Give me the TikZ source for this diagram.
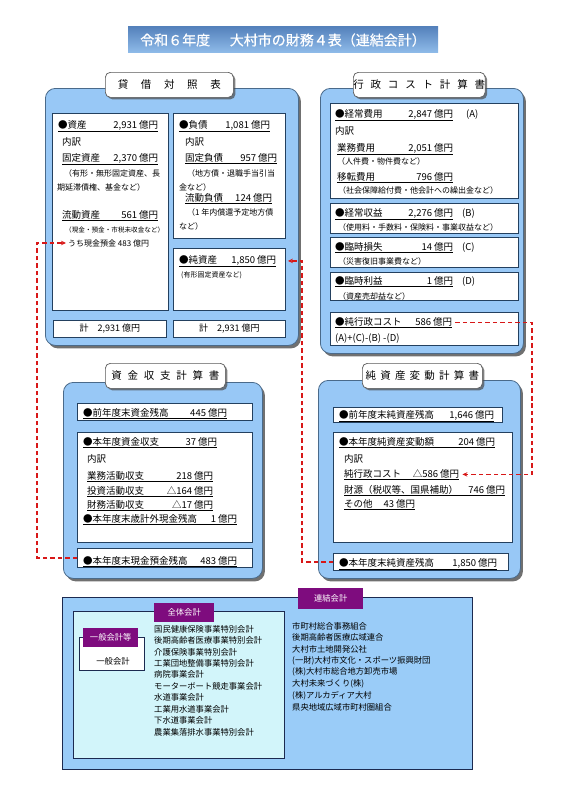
\documentclass[tikz,border=0pt]{standalone}
\usepackage{fontspec}
\setmainfont{Noto Sans CJK JP}
\usetikzlibrary{shadows,arrows.meta}
\definecolor{panelblue}{HTML}{98C8F6}
\definecolor{panelline}{HTML}{4A6A8A}
\definecolor{navy}{HTML}{23405F}
\definecolor{linkred}{HTML}{D81818}
\definecolor{purp}{HTML}{7E0C7E}
\definecolor{paleCyan}{HTML}{D2F5FA}
\definecolor{botblue}{HTML}{9ACCF8}
\definecolor{botborder}{HTML}{1C2A50}
\definecolor{bannertop}{HTML}{5582BC}
\definecolor{bannermid}{HTML}{2A5690}
\definecolor{bannerbot}{HTML}{90BCEA}
\newcommand\ulr[3]{\underline{\makebox[#1pt][l]{#2\hfill #3}}}
\newcommand\fs[1]{\fontsize{#1}{#1}\selectfont}
\begin{document}
\begin{tikzpicture}[x=1pt,y=-1pt,
  panel/.style={draw=panelline, line width=0.8pt, fill=panelblue, rounded corners=10pt,
    drop shadow={shadow xshift=2.5pt, shadow yshift=-3pt, fill=black!70, opacity=0.8},
    anchor=north west, inner sep=0pt},
  tabbox/.style={draw=black!65, line width=0.7pt, fill=white, rounded corners=5pt,
    drop shadow={shadow xshift=2pt, shadow yshift=-2pt, fill=black!70, opacity=0.7},
    anchor=north west, inner sep=0pt, font=\fs{10.5}},
  ibox/.style={draw=navy, line width=0.9pt, fill=white, anchor=north west, inner sep=0pt},
  tx/.style={anchor=base west, inner sep=0pt, font=\fs{9.5}},
  sx/.style={anchor=base west, inner sep=0pt, font=\fs{8}},
  lx/.style={anchor=west, inner sep=0pt, font=\fs{8.3}},
  plabel/.style={fill=purp, text=white, anchor=north west, inner sep=0pt, font=\fs{8.3}},
  link/.style={draw=linkred, line width=1.3pt, dash pattern=on 4.5pt off 3pt},
  arr/.style={-{Stealth[length=5pt,width=4.5pt]}},
  banner/.style={minimum width=310pt, minimum height=26pt, inner sep=0pt, text=white,
    font=\fs{14}, top color=bannertop, middle color=bannermid, bottom color=bannerbot}
]
\useasboundingbox (0,0) rectangle (566,800);

% title
\node[banner] (title) at (283,40) {\addfontfeature{FakeBold=0.6}令和６年度\hspace{0.4em}　大村市の財務４表（連結会計）};

% ===== balance sheet
\node[panel, minimum width=253pt, minimum height=257pt] (bsp) at (45,88) {};
\node[tabbox, minimum width=128pt, minimum height=25pt] (bst) at (105,72)
  {貸\hspace{1.2em}借\hspace{1.2em}対\hspace{1.2em}照\hspace{1.2em}表};
\node[ibox, minimum width=116pt, minimum height=197pt] (asb) at (52,113) {};
\node[ibox, minimum width=112pt, minimum height=125pt] (lib) at (173,113) {};
\node[ibox, minimum width=112pt, minimum height=62pt] (jnb) at (173,248) {};
\node[ibox, minimum width=113pt, minimum height=17pt, font=\fs{9}] (sum1) at (53,320) {計\hspace{1em}2,931 億円};
\node[ibox, minimum width=112pt, minimum height=17pt, font=\fs{9}] (sum2) at (173,320) {計\hspace{1em}2,931 億円};

\node[tx] (a1) at (58,128) {\ulr{100}{●資産}{2,931 億円}};
\node[tx] (a2) at (62,145) {内訳};
\node[tx] (a3) at (62,161) {\ulr{96}{固定資産}{2,370 億円}};
\node[sx] (a4) at (64,176) {（有形・無形固定資産、長};
\node[sx] (a5) at (57,190) {期延滞債権、基金など）};
\node[tx] (a6) at (62,218) {\ulr{96}{流動資産}{561 億円}};
\node[sx, font=\fs{6.6}] (a7) at (65,232) {（現金・預金・市税未収金など）};
\node[sx] (a8) at (68,246) {うち現金預金 483 億円};

\node[tx] (l1) at (179,128) {\ulr{91}{●負債}{1,081 億円}};
\node[tx] (l2) at (185,145) {内訳};
\node[tx] (l3) at (185,161) {\ulr{92}{固定負債}{957 億円}};
\node[sx] (l4) at (187,176) {（地方債・退職手当引当};
\node[sx] (l5) at (179,190) {金など）};
\node[tx] (l6) at (185,201) {\ulr{87}{流動負債}{124 億円}};
\node[sx] (l7) at (187,215) {（1 年内償還予定地方債};
\node[sx] (l8) at (179,229) {など）};

\node[tx] (j1) at (179,263) {\ulr{97}{●純資産}{1,850 億円}};
\node[sx, font=\fs{7}] (j2) at (181,277) {(有形固定資産など)};

% ===== administrative cost
\node[panel, minimum width=203pt, minimum height=265pt] (gcp) at (320,88) {};
\node[tabbox, minimum width=127pt, minimum height=25pt] (gct) at (353,72)
  {行\hspace{0.65em}政\hspace{0.65em}コ\hspace{0.65em}ス\hspace{0.65em}ト\hspace{0.65em}計\hspace{0.65em}算\hspace{0.65em}書};
\node[ibox, minimum width=188pt, minimum height=95pt] (gc1) at (330,103) {};
\node[ibox, minimum width=188pt, minimum height=30pt] (gc2) at (330,203) {};
\node[ibox, minimum width=188pt, minimum height=30pt] (gc3) at (330,237) {};
\node[ibox, minimum width=188pt, minimum height=28pt] (gc4) at (330,272) {};
\node[ibox, minimum width=188pt, minimum height=33pt] (gc5) at (330,312) {};

\node[tx] (g1) at (335,117) {\ulr{118}{●経常費用}{2,847 億円}};
\node[tx] (g1x) at (466,117) {(A)};
\node[tx] (g2) at (335,134) {内訳};
\node[tx] (g3) at (337,151) {\ulr{116}{業務費用}{2,051 億円}};
\node[sx] (g4) at (337,164) {（人件費・物件費など）};
\node[tx] (g5) at (337,180) {\ulr{116}{移転費用}{796 億円}};
\node[sx] (g6) at (338,193) {（社会保障給付費・他会計への繰出金など）};
\node[tx] (g7) at (335,216) {\ulr{118}{●経常収益}{2,276 億円}};
\node[tx] (g7x) at (462,216) {(B)};
\node[sx] (g8) at (338,230) {（使用料・手数料・保険料・事業収益など）};
\node[tx] (g9) at (335,250) {\ulr{118}{●臨時損失}{14 億円}};
\node[tx] (g9x) at (462,250) {(C)};
\node[sx] (g10) at (338,264) {（災害復旧事業費など）};
\node[tx] (g11) at (335,284) {\ulr{118}{●臨時利益}{1 億円}};
\node[tx] (g11x) at (462,284) {(D)};
\node[sx] (g12) at (338,299) {（資産売却益など）};
\node[tx] (g13) at (335,325) {\ulr{117}{●純行政コスト}{586 億円}};
\node[tx] (g14) at (335,341) {(A)+(C)-(B) -(D)};

% ===== cash flow
\node[panel, minimum width=199pt, minimum height=196pt] (cfp) at (63,382) {};
\node[tabbox, minimum width=120pt, minimum height=25pt] (cft) at (105,363)
  {資\hspace{0.55em}金\hspace{0.55em}収\hspace{0.55em}支\hspace{0.55em}計\hspace{0.55em}算\hspace{0.55em}書};
\node[ibox, minimum width=175pt, minimum height=17pt] (cf1) at (77,403) {};
\node[ibox, minimum width=175pt, minimum height=110pt] (cf2) at (77,432) {};
\node[ibox, minimum width=175pt, minimum height=19pt] (cf3) at (77,548) {};

\node[tx] (c1) at (83,416) {\ulr{144}{●前年度末資金残高}{445 億円}};
\node[tx] (c2) at (83,445) {\ulr{134}{●本年度資金収支}{37 億円}};
\node[tx] (c3) at (87,462) {内訳};
\node[tx] (c4) at (87,479) {\ulr{126}{業務活動収支}{218 億円}};
\node[tx] (c5) at (87,494) {\ulr{126}{投資活動収支}{△164 億円}};
\node[tx] (c6) at (87,508) {\ulr{126}{財務活動収支}{△17 億円}};
\node[tx] (c7) at (83,522) {\ulr{154}{●本年度末歳計外現金残高}{1 億円}};
\node[tx] (c8) at (83,564) {\ulr{154}{●本年度末現金預金残高}{483 億円}};

% ===== net assets change
\node[panel, minimum width=202pt, minimum height=198pt] (nwp) at (318,380) {};
\node[tabbox, minimum width=120pt, minimum height=25pt] (nwt) at (362,363)
  {純\hspace{0.4em}資\hspace{0.4em}産\hspace{0.4em}変\hspace{0.4em}動\hspace{0.4em}計\hspace{0.4em}算\hspace{0.4em}書};
\node[ibox, minimum width=169pt, minimum height=15pt] (nw1) at (333,407) {};
\node[ibox, minimum width=179pt, minimum height=110pt] (nw2) at (333,432) {};
\node[ibox, minimum width=175pt, minimum height=17pt] (nw3) at (333,553) {};

\node[tx] (n1) at (339,418) {\ulr{155}{●前年度末純資産残高}{1,646 億円}};
\node[tx] (n2) at (339,445) {\ulr{156}{●本年度純資産変動額}{204 億円}};
\node[tx] (n3) at (344,462) {内訳};
\node[tx] (n4) at (344,477) {\ulr{115}{純行政コスト}{△586 億円}};
\node[tx] (n5) at (344,493) {\ulr{161}{財源（税収等、国県補助）}{746 億円}};
\node[tx] (n6) at (344,507) {\ulr{71}{その他}{43 億円}};
\node[tx] (n7) at (339,566) {\ulr{158}{●本年度末純資産残高}{1,850 億円}};

% ===== links
\coordinate (r1) at (532,400);
\coordinate (r2) at (302,400);
\coordinate (r3) at (37,400);
\draw[link,arr] ([xshift=3pt]g13.east) -| (r1) |- ([xshift=3pt]n4.east);
\draw[link,arr] (nw3.west) -| (r2) |- ([xshift=2pt]jnb.east |- j1.east);
\draw[link,arr] (cf3.west) -| (r3) |- ([xshift=-2pt]a8.west);

% ===== bottom scope diagram
\node[draw=botborder, line width=0.8pt, fill=botblue, minimum width=410pt, minimum height=172pt, anchor=north west] (cons) at (62,597) {};
\node[draw=botborder, line width=0.8pt, fill=paleCyan, minimum width=211pt, minimum height=147pt, anchor=north west] (whole) at (73,611) {};
\node[plabel, minimum width=60pt, minimum height=19pt] (wholelab) at (154,603) {全体会計};
\node[draw=botborder, line width=0.8pt, fill=white, minimum width=65pt, minimum height=33pt, anchor=north west] (genbox) at (79,637) {};
\node[plabel, minimum width=55pt, minimum height=19pt] (genlab) at (83,628) {一般会計等};
\node[font=\fs{8.3}, inner sep=0pt] (gen) at (113,661) {一般会計};
\node[plabel, minimum width=65pt, minimum height=21pt] (conslab) at (298,588) {連結会計};

\foreach \txt [count=\i] in {国民健康保険事業特別会計,後期高齢者医療事業特別会計,介護保険事業特別会計,工業団地整備事業特別会計,病院事業会計,モーターボート競走事業会計,水道事業会計,工業用水道事業会計,下水道事業会計,農業集落排水事業特別会計}
  \node[lx] (w\i) at (154,{629+11.44*(\i-1)}) {\txt};

\foreach \txt [count=\i] in {市町村総合事務組合,後期高齢者医療広域連合,大村市土地開発公社,(一財)大村市文化・スポーツ振興財団,(株)大村市総合地方卸売市場,大村未来づくり(株),(株)アルカディア大村,県央地域広域市町村圏組合}
  \node[lx] (k\i) at (292,{626+11.57*(\i-1)}) {\txt};
\end{tikzpicture}
\end{document}
